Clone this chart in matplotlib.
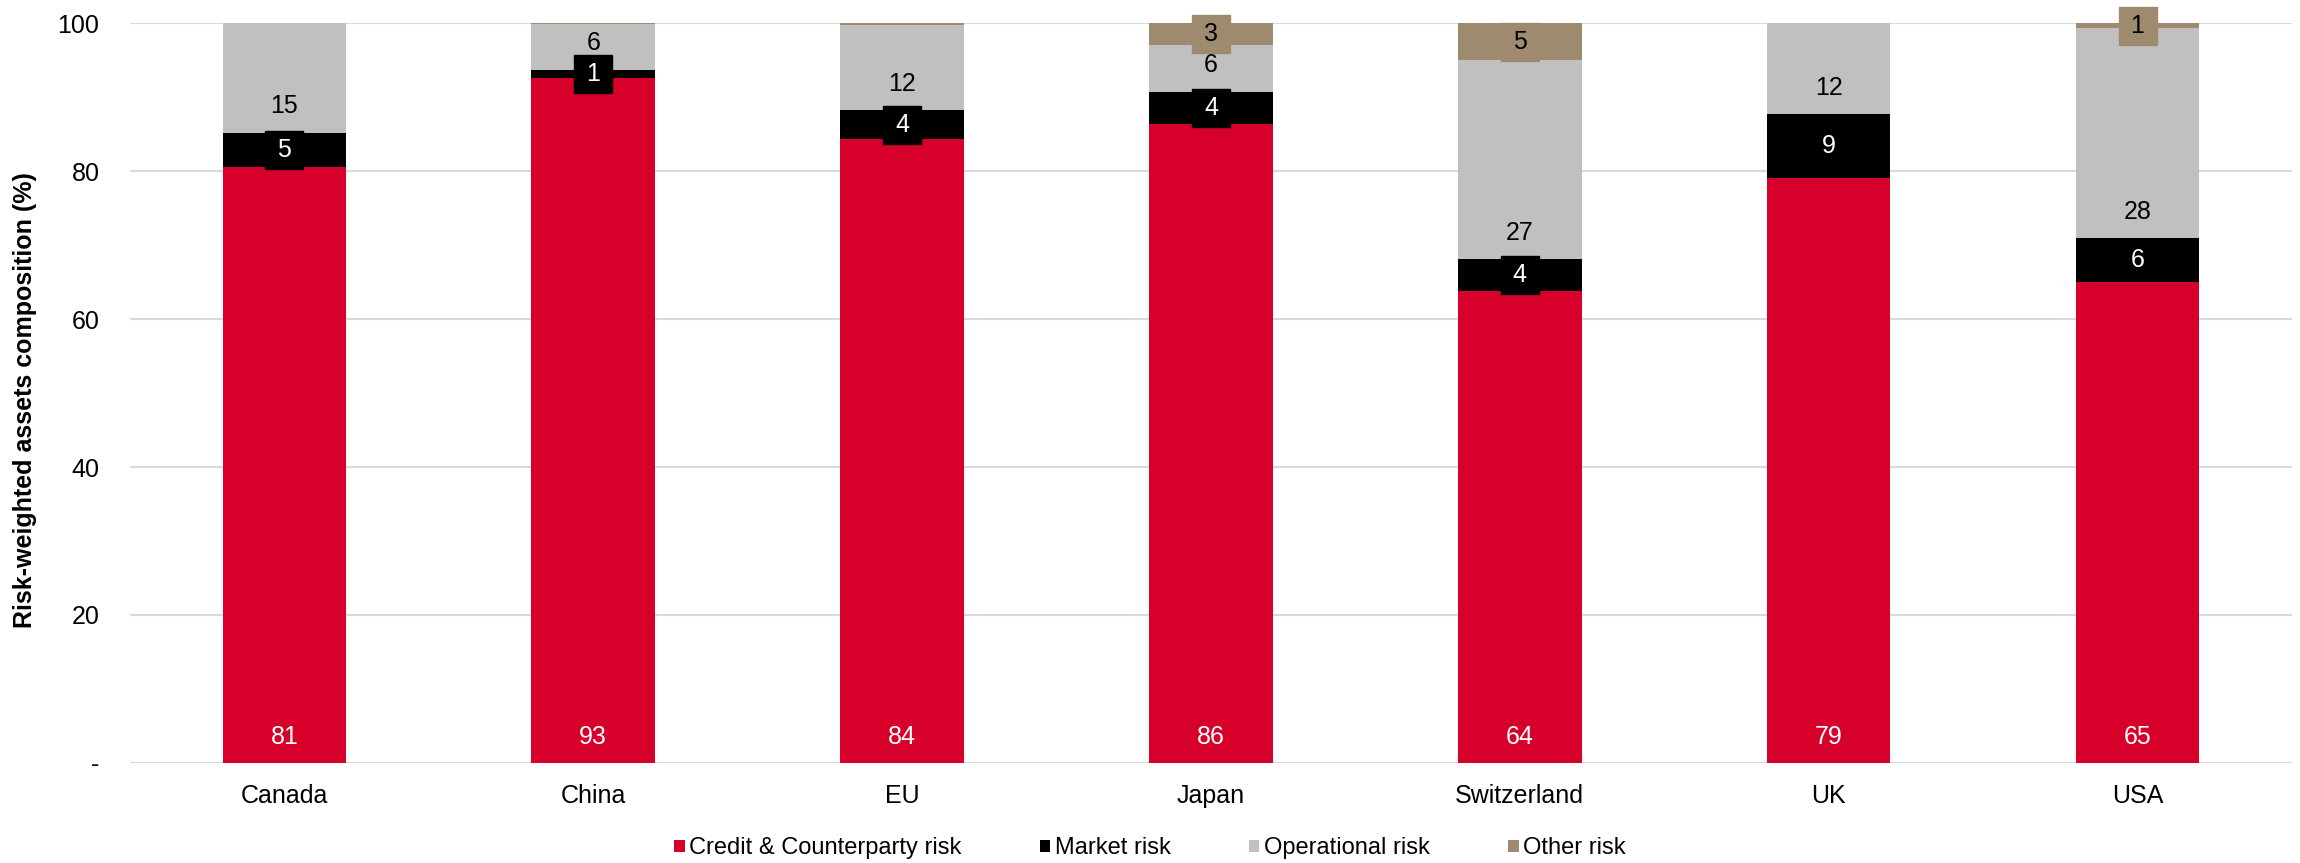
import matplotlib
matplotlib.use("Agg")
import matplotlib.pyplot as plt
from matplotlib.patches import Patch
import numpy as np

plt.rcParams['font.family'] = ['Liberation Sans', 'DejaVu Sans']

# data (% of risk-weighted assets)
countries = ["Canada", "China", "EU", "Japan", "Switzerland", "UK", "USA"]
credit = [80.6, 92.6, 84.3, 86.4, 63.8, 79.1, 65.0]
market = [4.6, 1.1, 3.9, 4.3, 4.3, 8.6, 5.9]
operational = [14.8, 6.2, 11.6, 6.3, 26.9, 12.3, 28.4]
other = [0.0, 0.1, 0.2, 3.0, 5.0, 0.0, 0.7]

series_names = ["Credit & Counterparty risk", "Market risk", "Operational risk", "Other risk"]
colors = ["#D7002B", "#000000", "#C0C0C0", "#9E8A6E"]
text_colors = ["white", "white", "black", "black"]

fig = plt.figure(figsize=(23, 8.63), dpi=100)
ax = fig.add_axes([0.0565, 0.1159, 0.94, 0.8574])

x = np.arange(len(countries))
width = 0.40
series = [credit, market, operational, other]
bottom = np.zeros(len(countries))

for i, vals in enumerate(series):
    vals = np.array(vals)
    ax.bar(x, vals, width, bottom=bottom, color=colors[i], zorder=2)
    for j, v in enumerate(vals):
        if v < 0.5:
            continue
        label = f"{v:.0f}"
        if i in (0, 2):
            # label inside base of segment
            ax.annotate(label, (x[j], bottom[j]), xytext=(0, 19), textcoords="offset points",
                        ha="center", va="center", fontsize=18, color=text_colors[i], zorder=4)
        else:
            yc = bottom[j] + v / 2
            # small boxed label
            ax.plot(x[j], yc, marker="s", markersize=28, color=colors[i], zorder=3, clip_on=False)
            ax.text(x[j], yc, label, ha="center", va="center", fontsize=18,
                    color=text_colors[i], zorder=4, clip_on=False)
    bottom += vals

ax.set_xlim(-0.5, len(countries) - 0.5)
ax.set_ylim(0, 100)
ax.set_yticks([0, 20, 40, 60, 80, 100])
ax.set_yticklabels(["-", "20", "40", "60", "80", "100"])
ax.set_xticks(x)
ax.set_xticklabels(countries)
ax.tick_params(axis="y", length=0, pad=22, labelsize=18)
ax.tick_params(axis="x", length=0, pad=15, labelsize=18)
ax.yaxis.grid(True, color="#D9D9D9", linewidth=1.5, zorder=0)
ax.set_axisbelow(True)
for s in ax.spines.values():
    s.set_visible(False)

ax.set_ylabel("Risk-weighted assets composition (%)", fontsize=18, fontweight="bold")
ax.yaxis.set_label_coords(-0.043, 0.49)

handles = [Patch(facecolor=c, edgecolor="none") for c in colors]
fig.legend(handles, series_names, loc="center", bbox_to_anchor=(0.5, 0.017), ncol=4,
           frameon=False, fontsize=17, handlelength=0.45, handleheight=0.45,
           handletextpad=0.2, columnspacing=3.3)

fig.savefig("out.png", dpi=100)
